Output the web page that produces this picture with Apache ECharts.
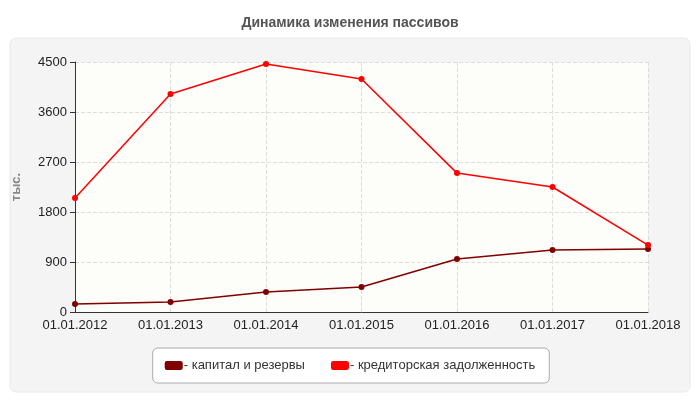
<!DOCTYPE html>
<html>
<head>
<meta charset="utf-8">
<script src="https://cdn.jsdelivr.net/npm/echarts@6/dist/echarts.min.js"></script>
<style>html,body{margin:0;padding:0;background:#fff}#chartmain{width:700px;height:400px}</style>
</head>
<body>
<div id="chartmain"></div>
<script>
var categories = ['01.01.2012', '01.01.2013', '01.01.2014', '01.01.2015', '01.01.2016', '01.01.2017', '01.01.2018'];
var capital = [145, 180, 360, 450, 955, 1115, 1135];
var creditors = [2050, 3925, 4465, 4195, 2500, 2250, 1205];
var seriesNames = ['- капитал и резервы', '- кредиторская задолженность'];
var seriesColors = ['#800000', '#ff0000'];

var chart = echarts.init(document.getElementById('chartmain'));
var font = 'Arial, "Liberation Sans", sans-serif';
chart.setOption({
    animation: false,
    textStyle: { fontFamily: font },
    graphic: [{
        type: 'rect', z: -10,
        shape: { x: 10, y: 38, width: 680, height: 354, r: 6 },
        style: { fill: '#f4f4f4', stroke: '#e8e8e8' }
    }],
    title: {
        text: 'Динамика изменения пассивов', left: 'center', top: 11,
        textStyle: { fontSize: 14, fontWeight: 'bold', color: '#555', fontFamily: font }
    },
    legend: {
        bottom: 17, left: 'center', itemWidth: 18, itemHeight: 9, itemGap: 26,
        padding: [11, 14, 11, 12],
        borderColor: '#aaa', borderWidth: 1, borderRadius: 5, backgroundColor: '#fff',
        icon: 'roundRect',
        textStyle: { fontSize: 13, color: '#333', padding: [0, 0, 0, -4] },
        data: seriesNames
    },
    grid: { left: 75, right: 52, top: 62, bottom: 88, show: true, backgroundColor: '#fdfdf9', borderWidth: 0 },
    xAxis: {
        type: 'category', boundaryGap: false, data: categories,
        axisLine: { lineStyle: { color: '#333' } },
        axisTick: { show: false },
        axisLabel: { color: '#222', fontSize: 13, margin: 7 },
        splitLine: { show: true, lineStyle: { color: '#ddd', type: 'dashed' } }
    },
    yAxis: {
        type: 'value', min: 0, max: 4500, interval: 900,
        name: 'тыс.', nameLocation: 'middle', nameGap: 52, nameRotate: 90,
        nameTextStyle: { color: '#888', fontWeight: 'bold', fontSize: 13 },
        axisLine: { show: true, lineStyle: { color: '#333' } },
        axisTick: { show: true, length: 5, lineStyle: { color: '#333' } },
        axisLabel: { color: '#222', fontSize: 13, formatter: function (v) { return String(v); } },
        splitLine: { lineStyle: { color: '#ddd', type: 'dashed' } }
    },
    series: [{
        name: seriesNames[0], type: 'line', data: capital,
        color: seriesColors[0], symbol: 'circle', symbolSize: 6,
        lineStyle: { width: 1.5 }
    }, {
        name: seriesNames[1], type: 'line', data: creditors,
        color: seriesColors[1], symbol: 'circle', symbolSize: 6,
        lineStyle: { width: 1.5 }
    }]
});
</script>
</body>
</html>
